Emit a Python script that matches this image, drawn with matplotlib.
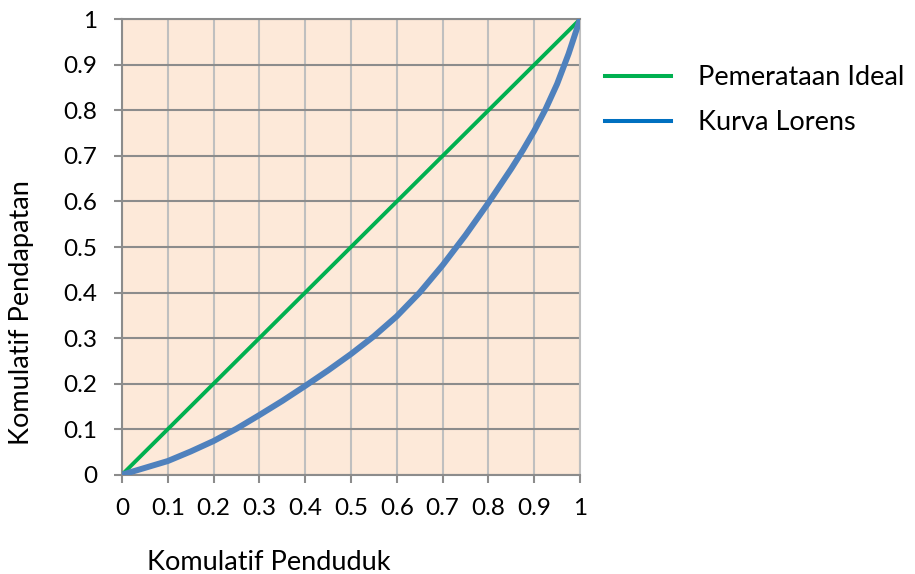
import matplotlib
matplotlib.use("Agg")
import matplotlib.pyplot as plt
from matplotlib.lines import Line2D

plt.rcParams['font.family'] = ['Lato', 'DejaVu Sans']

# Data
ideal_x = [0, 1]
ideal_y = [0, 1]
lorenz_x = [0, 0.05, 0.1, 0.15, 0.2, 0.25, 0.3, 0.35, 0.4, 0.45, 0.5,
            0.55, 0.6, 0.65, 0.7, 0.75, 0.8, 0.85, 0.875, 0.9, 0.925, 0.95, 0.975, 1.0]
lorenz_y = [0, 0.015, 0.030, 0.051, 0.074, 0.101, 0.131, 0.162, 0.195, 0.229, 0.265,
            0.304, 0.348, 0.400, 0.460, 0.526, 0.597, 0.672, 0.712, 0.755, 0.803, 0.858, 0.924, 1.0]
ticks = [0, 0.1, 0.2, 0.3, 0.4, 0.5, 0.6, 0.7, 0.8, 0.9, 1.0]
tick_labels = ['0', '0.1', '0.2', '0.3', '0.4', '0.5', '0.6', '0.7', '0.8', '0.9', '1']
series_names = ['Pemerataan Ideal', 'Kurva Lorens']
xlabel = 'Komulatif Penduduk'
ylabel = 'Komulatif Pendapatan'

fig = plt.figure(figsize=(9.15, 5.74), dpi=100)
ax = fig.add_axes([122/915, 1 - 474.7/574, (580 - 122)/915, (474.7 - 19.3)/574])
ax.set_facecolor('#FDE9D9')

ax.plot(ideal_x, ideal_y, color='#00B050', lw=2.8, solid_capstyle='butt', zorder=3)
ax.plot(lorenz_x, lorenz_y, color='#4F81BD', lw=4.3, solid_joinstyle='round',
        solid_capstyle='round', zorder=4)

ax.set_xlim(0, 1)
ax.set_ylim(0, 1)
ax.set_xticks(ticks)
ax.set_xticklabels(tick_labels)
ax.set_yticks(ticks)
ax.set_yticklabels(tick_labels)

for x in ticks:
    ax.axvline(x, color='#BFBFBF', lw=1.5, zorder=1)
for y in ticks:
    ax.axhline(y, color='#8C8C8C', lw=1.5, zorder=2)

for s in ['top', 'bottom', 'left']:
    ax.spines[s].set_color('#8C8C8C')
    ax.spines[s].set_linewidth(1.5)
ax.spines['right'].set_color('#BFBFBF')
ax.spines['right'].set_linewidth(1.5)

ax.tick_params(axis='both', direction='out', length=5.5, width=1.5, color='#8C8C8C',
               labelsize=17.5, labelcolor='black')
ax.tick_params(axis='x', pad=11.5)
ax.tick_params(axis='y', pad=12.5)

fig.text(268.5/915, 1 - 570/574, xlabel, ha='center', va='baseline', fontsize=19.5)
fig.text(22/915, 1 - 313/574, ylabel, ha='center', va='center', rotation=90, fontsize=19.5)

handles = [Line2D([], [], color='#00B050', lw=2.9),
           Line2D([], [], color='#0070C0', lw=2.9)]
fig.legend(handles, series_names, loc='upper left', bbox_to_anchor=(605/915, 1 - 65/574),
           frameon=False, fontsize=19.5, handlelength=2.44, handletextpad=1.0,
           labelspacing=0.75, borderaxespad=0, borderpad=0)

fig.savefig('out.png', dpi=100)
